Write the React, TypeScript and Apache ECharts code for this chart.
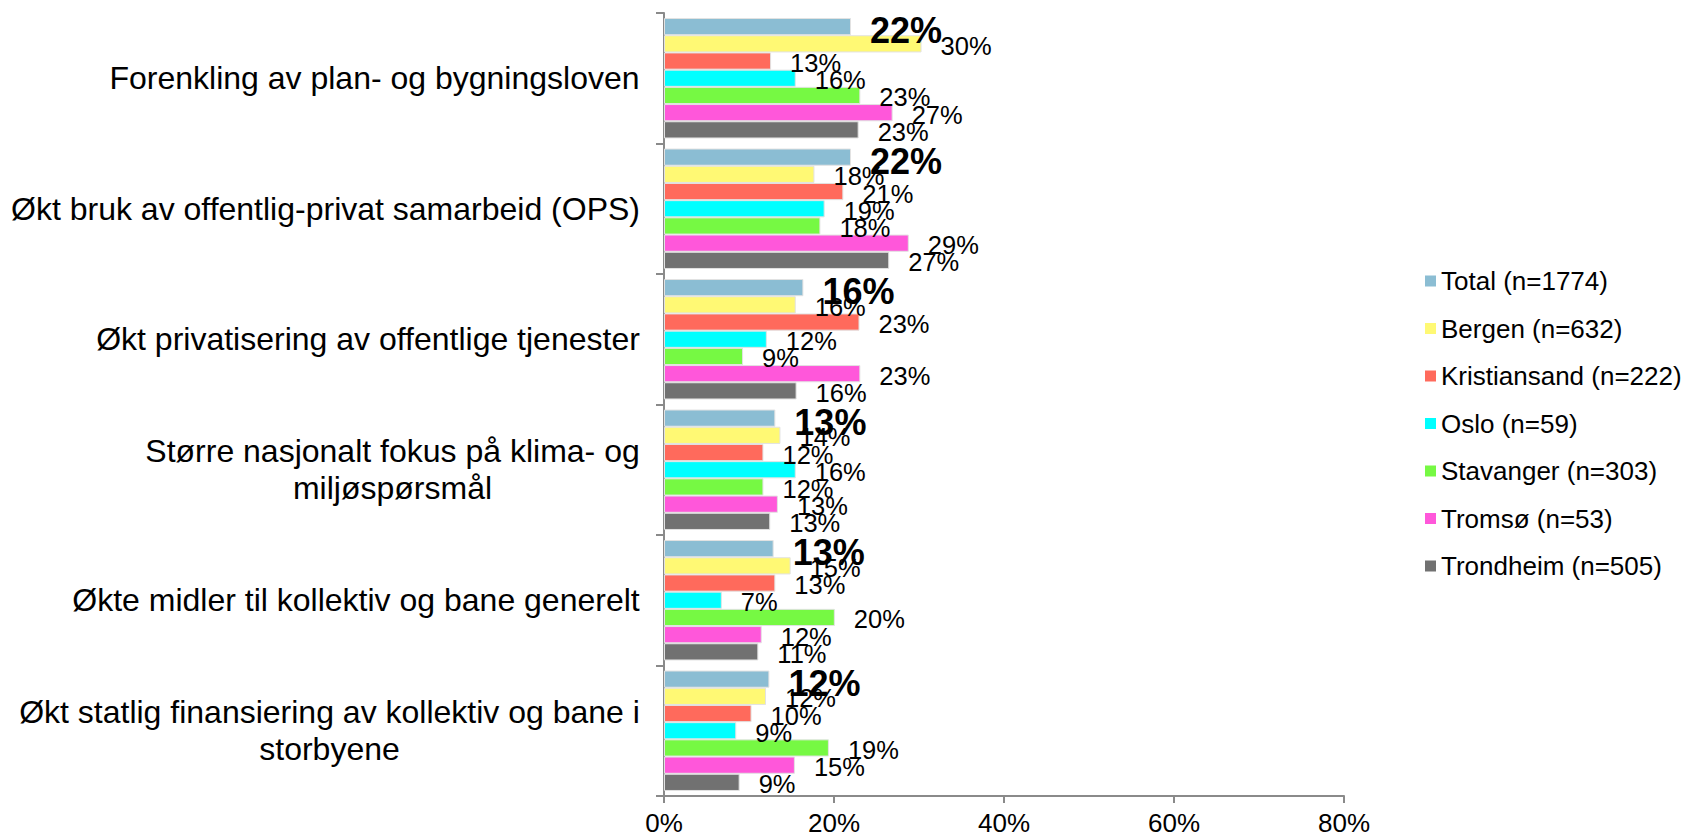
import React, { useEffect, useRef } from "react";
import * as echarts from "echarts";

const categories = [
  "Forenkling av plan- og bygningsloven",
  "Økt bruk av offentlig-privat samarbeid (OPS)",
  "Økt privatisering av offentlige tjenester",
  "Større nasjonalt fokus på klima- og\nmiljøspørsmål",
  "Økte midler til kollektiv og bane generelt",
  "Økt statlig finansiering av kollektiv og bane i\nstorbyene",
];

const seriesNames = [
  "Total (n=1774)",
  "Bergen (n=632)",
  "Kristiansand (n=222)",
  "Oslo (n=59)",
  "Stavanger (n=303)",
  "Tromsø (n=53)",
  "Trondheim (n=505)",
];

const total = [22.0, 22.0, 16.4, 13.1, 12.9, 12.4];
const bergen = [30.3, 17.7, 15.5, 13.7, 14.9, 12.0];
const kristiansand = [12.6, 21.1, 23.0, 11.7, 13.1, 10.3];
const oslo = [15.5, 18.9, 12.1, 15.5, 6.8, 8.5];
const stavanger = [23.1, 18.4, 9.3, 11.7, 20.1, 19.4];
const tromso = [26.9, 28.8, 23.1, 13.4, 11.5, 15.4];
const trondheim = [22.9, 26.5, 15.6, 12.5, 11.1, 8.9];

const seriesValues = [total, bergen, kristiansand, oslo, stavanger, tromso, trondheim];
const colors = ["#8BBDD3", "#FFF974", "#FF6A5C", "#00FFFF", "#76F943", "#FF57DA", "#717171"];

const FONT = "'Liberation Sans', Arial, Helvetica, sans-serif";
const CAT_SIZE = 32;

export default function App() {
  const ref = useRef<HTMLDivElement>(null);
  useEffect(() => {
    if (!ref.current) return;
    const chart = echarts.init(ref.current, null, { renderer: "svg" });

    const canvas = document.createElement("canvas");
    const ctx = canvas.getContext("2d")!;
    ctx.font = `${CAT_SIZE}px ${FONT}`;
    const rich: Record<string, any> = {};
    categories.forEach((c, i) => {
      const lines = c.split("\n");
      const w = Math.max(...lines.map((l) => ctx.measureText(l).width));
      rich["c" + i] = {
        width: Math.ceil(w) + 2,
        align: "center",
        fontSize: CAT_SIZE,
        fontFamily: FONT,
        lineHeight: 37,
        color: "#000",
      };
    });

    const series = seriesNames.map((name, si) => ({
      name,
      type: "bar",
      data: seriesValues[si],
      barGap: "0%",
      barCategoryGap: "7.7%",
      itemStyle: { color: colors[si], borderColor: "#e2e2e2", borderWidth: 1 },
      label: {
        show: true,
        position: "right",
        distance: 19,
        offset: si === 0 ? [0, 4] : [0, 2],
        formatter: (p: any) => Math.round(p.value) + "%",
        fontFamily: FONT,
        fontSize: si === 0 ? 36 : 25.5,
        fontWeight: si === 0 ? "bold" : "normal",
        color: "#000",
      },
      z: si === 0 ? 3 : 2,
    }));

    chart.setOption({
      animation: false,
      backgroundColor: "#fff",
      textStyle: { fontFamily: FONT },
      grid: { left: 664, top: 13, right: 342, bottom: 43 },
      legend: {
        orient: "vertical",
        left: 1420,
        top: 261,
        itemWidth: 11,
        itemHeight: 11,
        itemGap: 17.5,
        icon: "rect",
        data: seriesNames,
        itemStyle: { borderWidth: 0 },
        textStyle: { fontFamily: FONT, fontSize: 26, color: "#000", lineHeight: 30 },
      },
      xAxis: {
        type: "value",
        min: 0,
        max: 80,
        interval: 20,
        splitLine: { show: false },
        axisLine: { show: true, lineStyle: { color: "#8a8a8a", width: 2 } },
        axisTick: { show: true, length: 7, lineStyle: { color: "#8a8a8a", width: 2 } },
        axisLabel: {
          formatter: "{value}%",
          fontFamily: FONT,
          fontSize: 26,
          lineHeight: 20,
          color: "#000",
          margin: 17,
        },
      },
      yAxis: {
        type: "category",
        inverse: true,
        data: categories,
        axisLine: { show: true, lineStyle: { color: "#8a8a8a", width: 2 } },
        axisTick: { show: true, length: 8, lineStyle: { color: "#8a8a8a", width: 2 } },
        axisLabel: {
          margin: 23,
          fontFamily: FONT,
          fontSize: CAT_SIZE,
          lineHeight: 37,
          color: "#000",
          formatter: (value: string, index: number) =>
            value
              .split("\n")
              .map((l) => `{c${index}|${l}}`)
              .join("\n"),
          rich,
        },
      },
      series,
    });
    return () => chart.dispose();
  }, []);
  return (
    <div
      ref={ref}
      style={{ position: "fixed", left: 0, top: 0, width: 1686, height: 839, background: "#fff" }}
    />
  );
}
